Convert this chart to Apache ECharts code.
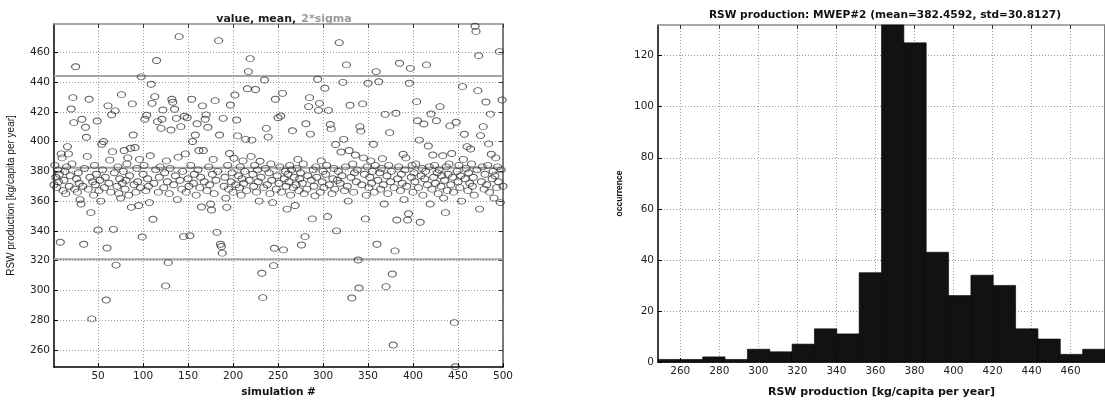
<!DOCTYPE html>
<html><head><meta charset="utf-8">
<script src="https://cdn.jsdelivr.net/npm/echarts@6/dist/echarts.min.js"></script>
<style>html,body{margin:0;padding:0;background:#fff}#c{width:1105px;height:403px}</style>
</head><body><div id="c"></div>
<script>
// RSW production value of each simulation (1..500)
const simValues = [
371,384,376,369,381,373,378,332.3,391.7,389,367,374,380,365,383,396.6,391.7,370,377,421.9,
385,429.5,412.7,368,450.3,375,366,379,372,361,358,415,370,331,382,409.6,402.9,390,368,428.4,
376,352.2,280.8,373,364,384,371,378,413.8,340.6,367,374,360,398.2,381,400,369,376,293.5,328.5,
424,372,387.5,366,418,393.2,341,379,420.6,317,370,383,365,375,362,431.5,372,380,394,368,
374,385,389,364,377,395.5,355.8,425.3,404.4,371,396,366,382,373,357,388,369,443.5,335.9,378,
384,415,367,417.7,375,370,359,390.5,438.5,425.7,347.8,372,430.2,381,454.5,413.4,366,376,383,408.9,
415,421.2,369,379,303,387,373,318.6,365,382,407.8,428.4,426.4,371,421.7,377,415.6,361,389.5,470.5,
374,410,368,380,336.1,417,391.7,366,416,375,370,336.7,384,428.4,400,372,378,404.4,364,412,
381,394,369,376,356,424,394,373,415,417.9,367,409.6,383,371,358,354,378,388,365,427.5,
374,339,380,467.8,404.4,331,329.5,325,415.6,370,376,362,355.8,384,368,392,424.6,373,379,366,
388.8,431.3,371,414.5,403.8,377,369,383,364,375,387,372,380,401.5,367,435.5,447,374,455.7,390,
401,378,370,384,435,366,381,373,360,386.8,376,311.5,295.1,369,441.4,382,408.9,371,403,379,
365,385,374,359,316.6,328.3,428.4,368,377,416,372,383,417.2,366,432.4,327.2,375,380,370,354.6,
378,373,384,364,381,407.3,369,376,357,371,382,388,367,375,379,330.5,372,385,365,336.1,
412,368,377,423.5,429.5,405,374,348,381,370,363.5,383,376,441.9,421,425.7,366,387,373,380,
369,435.8,378,384,349.6,421,371,411.5,408.5,365,375,382,368,398,340,374,380,466.5,372,393,
377,439.8,401.5,367,383,451.5,370,360,394,424.4,376,294.9,385,366,379,391,373,381,320.4,301.6,
410,407,371,425.3,389,378,348,364,383,439.2,369,376,387,372,380,398.2,366,384,447,331,
374,440.2,379,368,382,388.5,371,358,418.3,302.5,377,365,384,406,373,380,311,263.3,369,326.5,
419,347.3,375,383,452.6,367,378,372,391.5,361,381,389,370,347.3,351.5,439.2,449.2,376,384,366,
379,373,385,426.8,414,369,401,345.8,377,382,364,411.8,375,380,451.5,371,397,383,358,418.5,
368,391,376,384,372,414,379,365,381,423.5,370,377,390.5,362,374,352.2,383,367,378,385,
410.5,371,392,376,366,278.3,248.7,413,380,373,384,369,377,360,436.9,388,404.9,375,382,396.6,
367,379,372,395,385,370,376,364,477.5,474,381,434.2,457.7,354.6,404,373,383,410,368,378,
426.6,371,384,398.4,366,418.4,391.5,375,380,362,377,389,369,383,373,460.4,359,381,427.9,370
];
const meanValue = 382.4592;
const stdValue = 30.8127;
const scatterXTicks = [50,100,150,200,250,300,350,400,450,500];
const scatterYTicks = [260,280,300,320,340,360,380,400,420,440,460];

// histogram
const histCounts = [1,1,2,1,5,4,7,13,11,35,132,125,43,26,34,30,13,9,3,5];
const histMin = 248.6;
const histMax = 477.6;
const histXTicks = [260,280,300,320,340,360,380,400,420,440,460];
const histYTicks = [0,20,40,60,80,100,120];

const binW = (histMax - histMin) / histCounts.length;
const histData = histCounts.map((c, i) => [histMin + i * binW, histMin + (i + 1) * binW, c]);
const scatterData = simValues.map((v, i) => [i + 1, v]);
const nSim = simValues.length;
const hLine = v => [[1, v], [nSim, v]];

const tickFont = { fontFamily: 'DejaVu Sans', fontSize: 10.5, color: '#222' };
const gridDots = { show: true, lineStyle: { color: '#9a9a9a', width: 1, type: [1, 2] } };
const boldName = { fontFamily: 'DejaVu Sans', fontWeight: 'bold', fontSize: 11, color: '#111' };

function mainAxis(extra) {
  return Object.assign({
    type: 'value',
    axisLine: { show: true, onZero: false, lineStyle: { color: '#000', width: 1.5 } },
    axisTick: { show: true, inside: true, length: 4, lineStyle: { color: '#000' } },
    axisLabel: Object.assign({ margin: 4 }, tickFont),
    splitLine: gridDots
  }, extra);
}
function mirrorAxis(extra, color) {
  return Object.assign({
    type: 'value',
    axisLine: { show: true, onZero: false, lineStyle: { color: color, width: 1.5 } },
    axisTick: { show: true, inside: true, length: 4, lineStyle: { color: '#333' } },
    axisLabel: { show: false },
    splitLine: { show: false }
  }, extra);
}

const chart = echarts.init(document.getElementById('c'), null, { renderer: 'canvas' });
chart.setOption({
  animation: false,
  backgroundColor: '#fff',
  title: [
    { text: '{a|value, mean,} {b|2*sigma}', left: 279, top: 5, textAlign: 'center',
      textStyle: { rich: { a: Object.assign({}, boldName, { color: '#222' }), b: Object.assign({}, boldName, { color: '#9a9a9a' }) } } },
    { text: 'RSW production: MWEP#2 (mean=382.4592, std=30.8127)', left: 880, top: 5, textAlign: 'center',
      textStyle: Object.assign({}, boldName, { fontSize: 10.6, color: '#111' }) }
  ],
  grid: [
    { left: 54, right: 602, top: 24, bottom: 36 },
    { left: 658, right: 0, top: 25, bottom: 36 }
  ],
  xAxis: [
    mainAxis({ gridIndex: 0, position: 'bottom', min: 1, max: 500,
      axisTick: { show: true, inside: true, length: 4, customValues: scatterXTicks, lineStyle: { color: '#000' } },
      axisLabel: Object.assign({ margin: 4, customValues: scatterXTicks }, tickFont),
      name: 'simulation #', nameLocation: 'middle', nameGap: 20, nameTextStyle: Object.assign({}, boldName, { fontSize: 10.5 }) }),
    mirrorAxis({ gridIndex: 0, position: 'top', min: 1, max: 500,
      axisTick: { show: true, inside: true, length: 4, customValues: scatterXTicks, lineStyle: { color: '#333' } } }, '#8c8c8c'),
    mainAxis({ gridIndex: 1, position: 'bottom', min: histMin, max: histMax,
      axisTick: { show: true, inside: true, length: 4, customValues: histXTicks, lineStyle: { color: '#000' } },
      axisLabel: Object.assign({ margin: 4, customValues: histXTicks }, tickFont),
      name: 'RSW production [kg/capita per year]', nameLocation: 'middle', nameGap: 25, nameTextStyle: boldName }),
    mirrorAxis({ gridIndex: 1, position: 'top', min: histMin, max: histMax,
      axisTick: { show: true, inside: true, length: 4, customValues: histXTicks, lineStyle: { color: '#333' } } }, '#8c8c8c')
  ],
  yAxis: [
    mainAxis({ gridIndex: 0, position: 'left', min: 248.5, max: 479,
      axisTick: { show: true, inside: true, length: 4, customValues: scatterYTicks, lineStyle: { color: '#000' } },
      axisLabel: Object.assign({ margin: 4, customValues: scatterYTicks }, tickFont),
      name: 'RSW production [kg/capita per year]', nameLocation: 'middle', nameGap: 38,
      nameTextStyle: { fontFamily: 'Liberation Sans', fontSize: 10, color: '#111' } }),
    mirrorAxis({ gridIndex: 0, position: 'right', min: 248.5, max: 479,
      axisTick: { show: true, inside: true, length: 4, customValues: scatterYTicks, lineStyle: { color: '#333' } } }, '#555'),
    mainAxis({ gridIndex: 1, position: 'left', min: 0, max: 132,
      axisTick: { show: true, inside: true, length: 4, customValues: histYTicks, lineStyle: { color: '#000' } },
      axisLabel: Object.assign({ margin: 4, customValues: histYTicks }, tickFont),
      name: 'occurrence', nameLocation: 'middle', nameGap: 34,
      nameTextStyle: { fontFamily: 'Liberation Sans', fontWeight: 'bold', fontSize: 8.5, color: '#111' } }),
    mirrorAxis({ gridIndex: 1, position: 'right', min: 0, max: 132,
      axisTick: { show: false } }, '#555')
  ],
  series: [
    { type: 'line', xAxisIndex: 0, yAxisIndex: 0, data: hLine(meanValue), showSymbol: false, silent: true, z: 1,
      lineStyle: { color: '#a5a5a5', width: 2 } },
    { type: 'line', xAxisIndex: 0, yAxisIndex: 0, data: hLine(meanValue + 2 * stdValue), showSymbol: false, silent: true, z: 1,
      lineStyle: { color: '#a5a5a5', width: 2 } },
    { type: 'line', xAxisIndex: 0, yAxisIndex: 0, data: hLine(meanValue - 2 * stdValue), showSymbol: false, silent: true, z: 1,
      lineStyle: { color: '#a5a5a5', width: 2 } },
    { type: 'scatter', xAxisIndex: 0, yAxisIndex: 0, data: scatterData, symbol: 'circle', symbolSize: [8, 6], z: 2,
      itemStyle: { color: 'rgba(0,0,0,0)', borderColor: '#333', borderWidth: 1 } },
    { type: 'custom', xAxisIndex: 2, yAxisIndex: 2, data: histData, encode: { x: [0, 1], y: 2 },
      renderItem: function (params, api) {
        const s = api.coord([api.value(0), api.value(2)]);
        const e = api.coord([api.value(1), 0]);
        return { type: 'rect', shape: { x: s[0], y: s[1], width: e[0] - s[0], height: e[1] - s[1] },
          style: { fill: '#121212', stroke: '#000', lineWidth: 0.6 } };
      } }
  ]
});
</script>
</body></html>
